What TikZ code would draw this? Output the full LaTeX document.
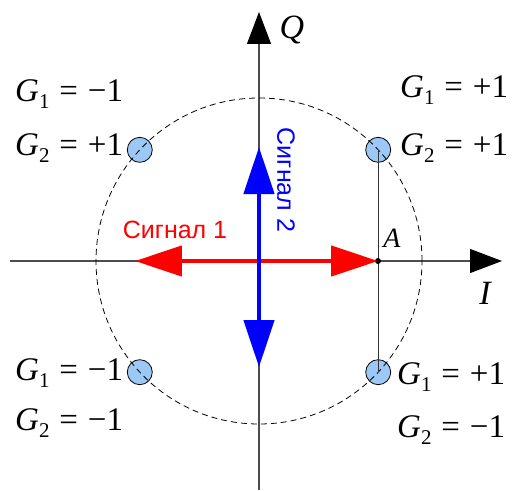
\documentclass[tikz,border=0pt]{standalone}
\usepackage{fontspec}
\setmainfont{Liberation Serif}
\newfontfamily\sigfont{Liberation Sans}
\usetikzlibrary{arrows.meta}
\definecolor{dotblue}{RGB}{155,200,245}
\newcommand{\glab}[2]{\textit{G}\raisebox{-0.22em}{\fontsize{21}{21}\selectfont #1}\hspace{0.3em}=\hspace{0.3em}#2}

\begin{document}
\begin{tikzpicture}[x=1pt, y=1pt,
        axis/.style={black!70, line width=1.1pt, -{Triangle[length=32pt,width=24pt,black]}},
        sigarrow/.style={line width=4.5pt, {Triangle[length=47pt,width=30pt]}-{Triangle[length=47pt,width=30pt]}},
        dot/.style={circle, draw, line width=0.8pt, fill=dotblue, minimum size=25pt, inner sep=0pt},
        glabel/.style={anchor=base west, inner sep=0pt, font=\fontsize{33}{40}\selectfont},
        sigtext/.style={inner sep=0pt, font=\sigfont\fontsize{25}{30}\selectfont}]
        \useasboundingbox (-259,-229) rectangle (254,261);
        \coordinate (O) at (0,0);
        \coordinate (i-start) at (-249,0);
        \coordinate (i-end) at (243,0);
        \coordinate (q-start) at (0,-229);
        \coordinate (q-end) at (0,249);
        \draw[axis] (i-start) -- (i-end);
        \draw[axis] (q-start) -- (q-end);
        \node[font=\fontsize{34}{40}\selectfont\itshape] (q-label) at (33,231) {Q};
        \node[font=\fontsize{34}{40}\selectfont\itshape] (i-label) at (226,-32) {I};
        % constellation points
        \foreach \name/\ang in {pp/43, mp/137, mm/223, pm/317}
            \node[dot] (dot-\name) at (\ang:163) {};
        \draw[dashed, dash pattern=on 6pt off 4pt, line width=0.8pt] (O) circle (163);
        \coordinate (A) at (119,0);
        \draw[black!80, line width=0.8pt] (dot-pp.center) -- (dot-pm.center);
        \fill (A) circle (3);
        \node[font=\fontsize{28}{34}\selectfont\itshape] (a-label) at (133,23) {A};
        % signals
        \coordinate (s1-end) at (-124,0);
        \coordinate (s2-top) at (0,114);
        \coordinate (s2-bot) at (0,-106);
        \draw[sigarrow, red] (s1-end) -- (A);
        \draw[sigarrow, blue] (s2-top) -- (s2-bot);
        \node[sigtext, red, anchor=base] (s1-label) at (-84,23) {Сигнал 1};
        \node[sigtext, blue, rotate=-90] (s2-label) at (27,81) {Сигнал 2};
        % code labels
        \node[glabel] (g1-mp) at (-244,160) {\glab{1}{−1}};
        \node[glabel] (g2-mp) at (-244,106) {\glab{2}{+1}};
        \node[glabel] (g1-pp) at (141,164) {\glab{1}{+1}};
        \node[glabel] (g2-pp) at (141,106) {\glab{2}{+1}};
        \node[glabel] (g1-mm) at (-244,-119) {\glab{1}{−1}};
        \node[glabel] (g2-mm) at (-244,-169) {\glab{2}{−1}};
        \node[glabel] (g1-pm) at (138,-123) {\glab{1}{+1}};
        \node[glabel] (g2-pm) at (138,-176) {\glab{2}{−1}};
    \end{tikzpicture}
\end{document}
